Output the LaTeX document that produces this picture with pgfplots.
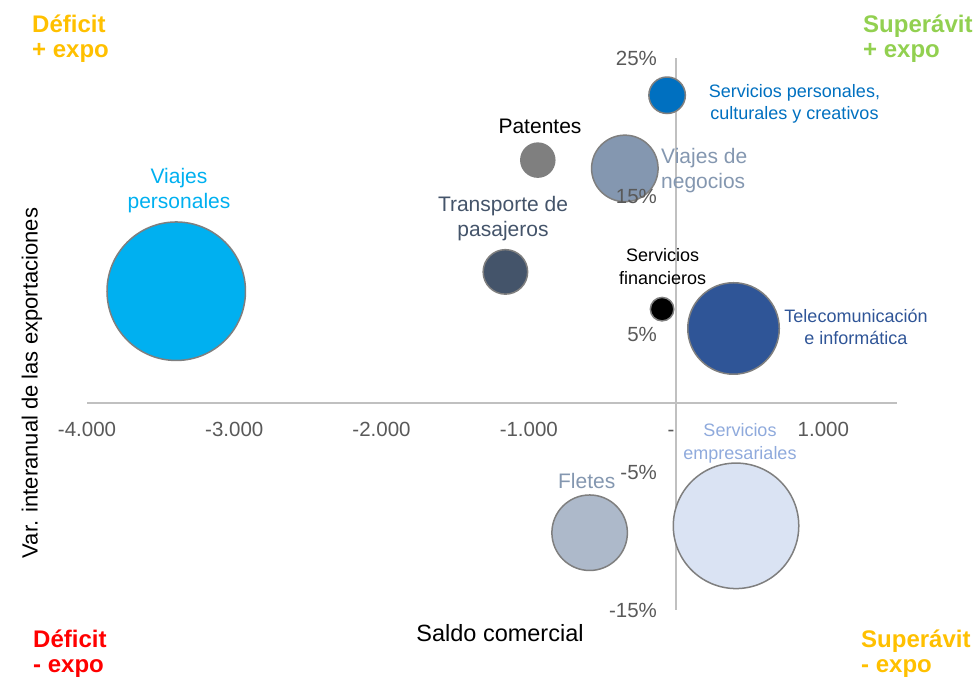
\documentclass[border=0pt]{standalone}
\usepackage{fontspec}
\setmainfont{Liberation Sans}
\usepackage{pgfplots}
\pgfplotsset{compat=1.18}
\definecolor{cyanc}{HTML}{00B0F0}
\definecolor{transp}{HTML}{44546A}
\definecolor{patgray}{HTML}{7F7F7F}
\definecolor{negoc}{HTML}{8497B0}
\definecolor{perso}{HTML}{0070C0}
\definecolor{telec}{HTML}{2F5597}
\definecolor{empres}{HTML}{DAE3F3}
\definecolor{empreslab}{HTML}{8FAADC}
\definecolor{fletes}{HTML}{ADB9CA}
\definecolor{outl}{HTML}{7F7F7F}
\definecolor{axisgray}{HTML}{C0C0C0}
\definecolor{tickgray}{HTML}{595959}
\definecolor{orangec}{HTML}{FFC000}
\definecolor{greenc}{HTML}{92D050}
\definecolor{redc}{HTML}{FF0000}
\newcommand{\fs}[1]{\fontsize{#1}{#1}\selectfont}
\pgfplotsset{
 layers/mylayers/.define layer set={axis background,axis grid,axis ticks,axis lines,pre main,main,axis tick labels,axis descriptions,axis foreground}{
  grid style={/pgfplots/on layer=axis grid},
  tick style={/pgfplots/on layer=axis ticks},
  axis line style={/pgfplots/on layer=axis lines},
  label style={/pgfplots/on layer=axis descriptions},
  legend style={/pgfplots/on layer=axis descriptions},
  title style={/pgfplots/on layer=axis descriptions},
  colorbar style={/pgfplots/on layer=axis descriptions},
  ticklabel style={/pgfplots/on layer=axis tick labels},
  axis background@ style={/pgfplots/on layer=axis background},
  3d box foreground style={/pgfplots/on layer=axis foreground},
 },
}
\begin{document}
\begin{tikzpicture}
\begin{axis}[
  set layers=mylayers,
  scale only axis, width=810pt, height=552pt,
  xmin=-4000, xmax=1500, ymin=-15, ymax=25,
  enlargelimits=false, clip=false,
  axis lines=middle,
  axis line style={draw=axisgray, line width=1.5pt, -},
  every inner x axis line/.append style={-},
  every inner y axis line/.append style={-},
  major tick length=0pt,
  hide obscured x ticks=false, hide obscured y ticks=false,
  xtick={-4000,-3000,-2000,-1000,0,1000},
  xticklabels={-4.000,-3.000,-2.000,-1.000,{-\kern10pt},1.000},
  ytick={-15,-5,5,15,25},
  yticklabels={-15\%,-5\%,5\%,15\%,25\%},
  xticklabel style={anchor=base, inner sep=0pt, yshift=-33.7pt, font=\fs{20.5}, text=tickgray},
  yticklabel style={anchor=east, inner sep=0pt, xshift=-19pt, font=\fs{20.5}, text=tickgray},
]
% Viajes personales
\addplot[only marks, mark=*, mark size=69.25pt, mark options={fill=cyanc, draw=outl, line width=1.5pt}] coordinates {(-3394,8.1)};
% Transporte de pasajeros
\addplot[only marks, mark=*, mark size=22.25pt, mark options={fill=transp, draw=outl, line width=1.5pt}] coordinates {(-1159,9.5)};
% Patentes
\addplot[only marks, mark=*, mark size=17pt, mark options={fill=patgray, draw=outl, line width=1.5pt}] coordinates {(-939,17.6)};
% Viajes de negocios
\addplot[only marks, mark=*, mark size=33.25pt, mark options={fill=negoc, draw=outl, line width=1.5pt}] coordinates {(-348,17.0)};
% Servicios personales, culturales y creativos
\addplot[only marks, mark=*, mark size=18.25pt, mark options={fill=perso, draw=outl, line width=1.5pt}] coordinates {(-61,22.3)};
% Servicios financieros
\addplot[only marks, mark=*, mark size=11.75pt, mark options={fill=black, draw=outl, line width=1.5pt}] coordinates {(-95,6.8)};
% Telecomunicacion e informatica
\addplot[only marks, mark=*, mark size=45.75pt, mark options={fill=telec, draw=outl, line width=1.5pt}] coordinates {(390,5.4)};
% Servicios empresariales
\addplot[only marks, mark=*, mark size=62.75pt, mark options={fill=empres, draw=outl, line width=1.5pt}] coordinates {(407,-8.9)};
% Fletes
\addplot[only marks, mark=*, mark size=37.75pt, mark options={fill=fletes, draw=outl, line width=1.5pt}] coordinates {(-587,-9.4)};
\end{axis}
% data labels
\begin{scope}[every node/.style={inner sep=0pt, anchor=base}]
\node[text=cyanc, font=\fs{21}] at (92pt,426pt) {Viajes};
\node[text=cyanc, font=\fs{21}] at (92pt,401pt) {personales};
\node[text=black, font=\fs{21}] at (453pt,476pt) {Patentes};
\node[text=transp, font=\fs{21}] at (416pt,398pt) {Transporte de};
\node[text=transp, font=\fs{21}] at (416pt,373pt) {pasajeros};
\node[text=negoc, font=\fs{21}, anchor=base west] at (574pt,446pt) {Viajes de};
\node[text=negoc, font=\fs{21}, anchor=base west] at (574pt,421pt) {negocios};
\node[text=perso, font=\fs{18}] at (707.5pt,512pt) {Servicios personales,};
\node[text=perso, font=\fs{18}] at (707.5pt,490pt) {culturales y creativos};
\node[text=black, font=\fs{18}] at (575.7pt,348pt) {Servicios};
\node[text=black, font=\fs{18}] at (575.7pt,325pt) {financieros};
\node[text=telec, font=\fs{18}] at (769pt,287pt) {Telecomunicación};
\node[text=telec, font=\fs{18}] at (769pt,265pt) {e informática};
\node[text=empreslab, font=\fs{18}] at (653pt,173pt) {Servicios};
\node[text=empreslab, font=\fs{18}] at (653pt,150pt) {empresariales};
\node[text=negoc, font=\fs{21}] at (499.7pt,121pt) {Fletes};
% corner labels
\node[text=orangec, font=\fs{24}\bfseries, anchor=base west] at (-55pt,577pt) {Déficit};
\node[text=orangec, font=\fs{24}\bfseries, anchor=base west] at (-55pt,552pt) {+ expo};
\node[text=greenc, font=\fs{24}\bfseries, anchor=base west] at (776pt,577pt) {Superávit};
\node[text=greenc, font=\fs{24}\bfseries, anchor=base west] at (776pt,552pt) {+ expo};
\node[text=redc, font=\fs{24}\bfseries, anchor=base west] at (-54pt,-37pt) {Déficit};
\node[text=redc, font=\fs{24}\bfseries, anchor=base west] at (-54pt,-62pt) {- expo};
\node[text=orangec, font=\fs{24}\bfseries, anchor=base west] at (774pt,-37pt) {Superávit};
\node[text=orangec, font=\fs{24}\bfseries, anchor=base west] at (774pt,-62pt) {- expo};
% axis titles
\node[text=black, font=\fs{23.5}] at (413pt,-31pt) {Saldo comercial};
\node[text=black, font=\fs{22}, rotate=90] at (-49.3pt,227pt) {Var. interanual de las exportaciones};
\end{scope}
\pgfresetboundingbox
\path[use as bounding box] (-87pt,-70pt) rectangle (890pt,610pt);
\end{tikzpicture}
\end{document}
